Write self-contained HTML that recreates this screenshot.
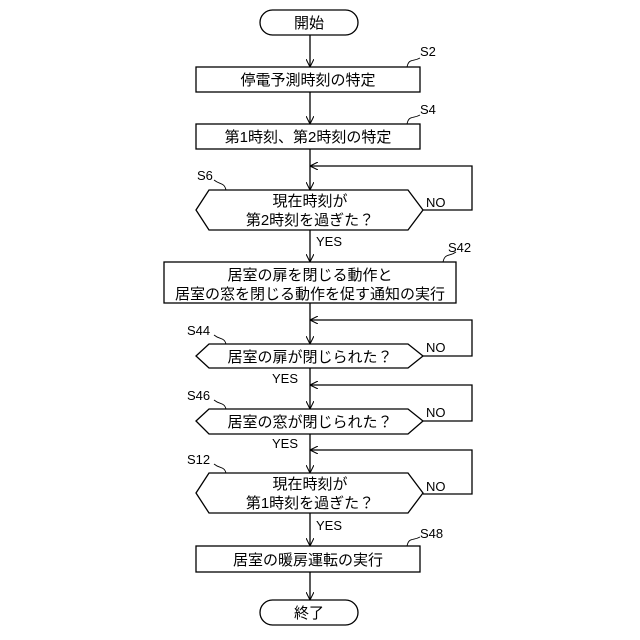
<!DOCTYPE html>
<html><head><meta charset="utf-8"><style>body{margin:0;background:#fff}svg{display:block}</style></head><body>
<svg width="640" height="640" viewBox="0 0 640 640" xmlns="http://www.w3.org/2000/svg" font-family="'Liberation Sans','Noto Sans CJK JP',sans-serif">
<defs><marker id="a" viewBox="0 0 10 10" refX="10" refY="5" markerWidth="8" markerHeight="8" orient="auto" markerUnits="userSpaceOnUse"><path d="M0,0 L10,5 L0,10" fill="none" stroke="#000" stroke-width="1.3"/></marker></defs>
<g stroke="#000" stroke-width="1.3" fill="none">
<rect x="260" y="10" width="98" height="25" rx="12.5" fill="#fff"/>
<rect x="196" y="67" width="224" height="25"/>
<rect x="196" y="124" width="224" height="25"/>
<polygon points="196,210 209,190 408,190 423,210 408,230 209,230"/>
<rect x="164" y="262" width="292" height="41"/>
<polygon points="196,356 209,344 408,344 423,356 408,368 209,368"/>
<polygon points="196,421 209,409 408,409 423,421 408,434 209,434"/>
<polygon points="196,493 209,473 408,473 423,493 408,513 209,513"/>
<rect x="196" y="546" width="224" height="26"/>
<rect x="260" y="600" width="98" height="25" rx="12.5"/>
<line x1="310" y1="35" x2="310" y2="67" marker-end="url(#a)"/>
<line x1="310" y1="92" x2="310" y2="124" marker-end="url(#a)"/>
<line x1="310" y1="149" x2="310" y2="190" marker-end="url(#a)"/>
<line x1="310" y1="230" x2="310" y2="262" marker-end="url(#a)"/>
<line x1="310" y1="303" x2="310" y2="344" marker-end="url(#a)"/>
<line x1="310" y1="368" x2="310" y2="409" marker-end="url(#a)"/>
<line x1="310" y1="434" x2="310" y2="473" marker-end="url(#a)"/>
<line x1="310" y1="513" x2="310" y2="546" marker-end="url(#a)"/>
<line x1="310" y1="572" x2="310" y2="600" marker-end="url(#a)"/>
<polyline points="423,210 472,210 472,166 310,166" marker-end="url(#a)"/>
<polyline points="423,356 472,356 472,320 310,320" marker-end="url(#a)"/>
<polyline points="423,421 472,421 472,385 310,385" marker-end="url(#a)"/>
<polyline points="423,494 472,494 472,450 310,450" marker-end="url(#a)"/>
<g stroke-width="0.9">
<path d="M407,67 C409,58 413,62 420,58"/>
<path d="M407,124 C409,115 413,119 420,115"/>
<path d="M226,190 C224,182 220,185 214,180"/>
<path d="M443,262 C445,253 449,257 456,252"/>
<path d="M226,344 C224,337 220,340 214,335"/>
<path d="M226,409 C224,402 220,405 214,400"/>
<path d="M226,473 C224,466 220,469 214,464"/>
<path d="M407,546 C409,537 413,541 420,537"/>
</g>
</g>
<g font-size="15" text-anchor="middle" fill="#000">
<text x="309" y="28">開始</text>
<text x="308" y="85">停電予測時刻の特定</text>
<text x="308" y="142">第1時刻、第2時刻の特定</text>
<text x="310" y="206">現在時刻が</text>
<text x="310" y="225">第2時刻を過ぎた？</text>
<text x="310" y="280">居室の扉を閉じる動作と</text>
<text x="310" y="299">居室の窓を閉じる動作を促す通知の実行</text>
<text x="310" y="362">居室の扉が閉じられた？</text>
<text x="310" y="427">居室の窓が閉じられた？</text>
<text x="310" y="489">現在時刻が</text>
<text x="310" y="508">第1時刻を過ぎた？</text>
<text x="308" y="565">居室の暖房運転の実行</text>
<text x="309" y="618">終了</text>
</g>
<g font-size="13" fill="#000">
<text x="420" y="56">S2</text>
<text x="420" y="114">S4</text>
<text x="197" y="180">S6</text>
<text x="448" y="252">S42</text>
<text x="187" y="335">S44</text>
<text x="187" y="400">S46</text>
<text x="187" y="464">S12</text>
<text x="420" y="538">S48</text>
<text x="426" y="207">NO</text>
<text x="426" y="352">NO</text>
<text x="426" y="417">NO</text>
<text x="426" y="491">NO</text>
<text x="316" y="246">YES</text>
<text x="272" y="383">YES</text>
<text x="272" y="448">YES</text>
<text x="316" y="530">YES</text>
</g>
</svg>
</body></html>
